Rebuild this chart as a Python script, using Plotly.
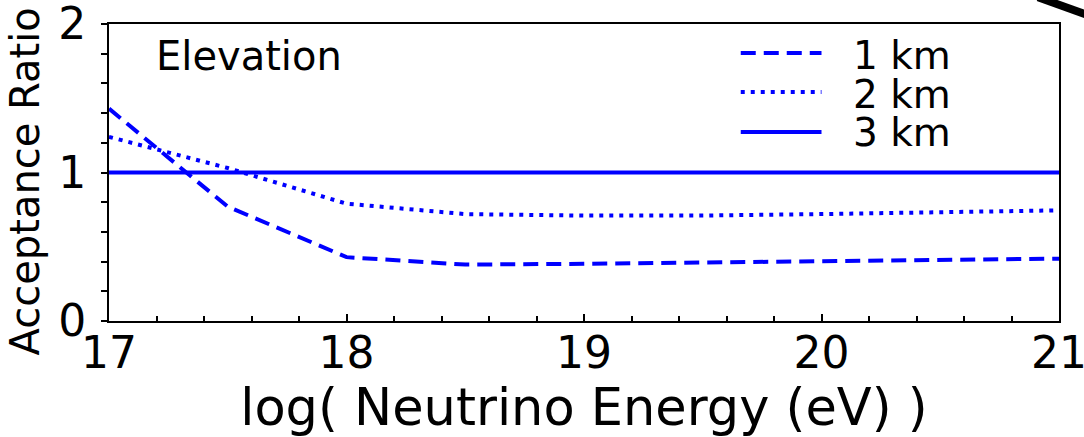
import plotly.graph_objects as go

# log10 of neutrino energy (eV)
energy = [17.0, 17.5, 18.0, 18.5, 19.0, 19.5, 20.0, 20.5, 21.0]

# acceptance ratio relative to the 3 km elevation
ratio_1km = [1.43, 0.77, 0.43, 0.38, 0.385, 0.395, 0.40, 0.41, 0.42]
ratio_2km = [1.24, 1.03, 0.79, 0.72, 0.71, 0.71, 0.72, 0.73, 0.745]
ratio_3km = [1.0, 1.0, 1.0, 1.0, 1.0, 1.0, 1.0, 1.0, 1.0]

series_names = ["1 km", "2 km", "3 km"]
x_ticks = [17, 18, 19, 20, 21]
y_ticks = [0, 1, 2]

BLUE = "#0000ff"
FONT = "DejaVu Sans"
styles = {"1 km": "15px,8px", "2 km": "4px,6px", "3 km": "solid"}

fig = go.Figure()
for name, ys in zip(series_names, [ratio_1km, ratio_2km, ratio_3km]):
    fig.add_trace(go.Scatter(
        x=energy, y=ys, mode="lines", name=name,
        line=dict(color=BLUE, width=4, dash=styles[name]),
        showlegend=False,
    ))

# hand-drawn legend in the upper right of the axes
legend_line_y = [0.902, 0.771, 0.636]
legend_text_y = [0.893, 0.761, 0.636]
for name, ly, ty in zip(series_names, legend_line_y, legend_text_y):
    fig.add_shape(type="line", xref="paper", yref="paper",
                  x0=0.665, x1=0.750, y0=ly, y1=ly,
                  line=dict(color=BLUE, width=4, dash=styles[name]))
    fig.add_annotation(xref="paper", yref="paper", x=0.781, y=ty,
                       text=name, showarrow=False, xanchor="left", yanchor="middle",
                       font=dict(family=FONT, size=39, color="black"))

fig.add_annotation(xref="paper", yref="paper", x=0.047, y=0.893,
                   text="Elevation", showarrow=False, xanchor="left", yanchor="middle",
                   font=dict(family=FONT, size=40, color="black"))

# y-axis title placed as rotated text left of the tick labels
fig.add_annotation(xref="paper", yref="paper", x=-0.0884, y=0.47,
                   text="Acceptance Ratio", showarrow=False, textangle=-90,
                   xanchor="center", yanchor="middle",
                   font=dict(family=FONT, size=40, color="black"))

# stray stroke at the top-right edge
fig.add_shape(type="line", xref="paper", yref="paper",
              x0=0.978, y0=1.09, x1=1.03, y1=1.03,
              line=dict(color="black", width=8))

axis_common = dict(
    showgrid=False, zeroline=False, showline=True, mirror=True,
    linecolor="black", linewidth=2,
    tickfont=dict(family=FONT, size=44, color="black"),
    ticklabeloverflow="allow",
)

fig.update_xaxes(
    range=[17, 21], tickvals=x_ticks, ticktext=[str(v) for v in x_ticks],
    ticks="inside", ticklen=7, tickwidth=1.5, tickcolor="black",
    minor=dict(dtick=0.2, ticks="inside", ticklen=5, tickwidth=1.5, tickcolor="black"),
    ticklabelstandoff=-8,
    title=dict(text="log( Neutrino Energy (eV) )",
               font=dict(family=FONT, size=51, color="black"), standoff=8),
    **axis_common,
)
fig.update_yaxes(
    range=[0, 2], tickvals=y_ticks, ticktext=[str(v) for v in y_ticks],
    ticks="outside", ticklen=6, tickwidth=1.5, tickcolor="black",
    minor=dict(dtick=0.2, ticks="outside", ticklen=6, tickwidth=1.5, tickcolor="black"),
    ticklabelstandoff=6,
    **axis_common,
)

fig.update_layout(
    width=1084, height=437,
    margin=dict(l=109, r=25, t=24, b=116, autoexpand=False),
    paper_bgcolor="white", plot_bgcolor="white",
)

fig.write_html("out.html")
